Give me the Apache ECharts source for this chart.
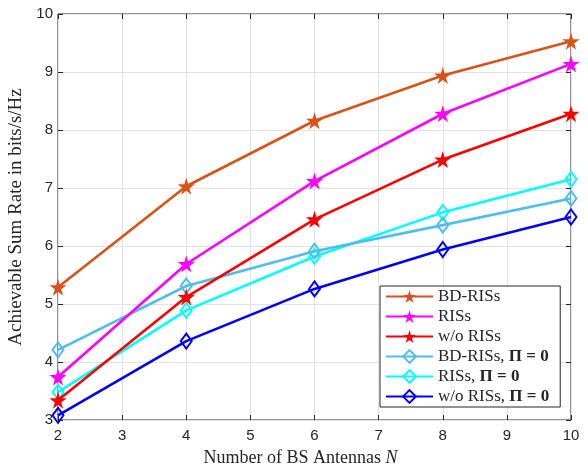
<!DOCTYPE html>
<html><head><meta charset="utf-8">
<script src="https://cdn.jsdelivr.net/npm/echarts@6/dist/echarts.min.js"></script>
<style>html,body{margin:0;padding:0;background:#fff}#c{width:588px;height:466px}</style>
</head><body><div id="c"></div>
<script>
const antennas = [2, 4, 6, 8, 10];
const bdRIS = [5.29, 7.03, 8.16, 8.94, 9.53];
const ris = [3.74, 5.69, 7.12, 8.28, 9.14];
const woRIS = [3.34, 5.12, 6.46, 7.49, 8.28];
const bdRIS0 = [4.21, 5.31, 5.91, 6.36, 6.82];
const ris0 = [3.48, 4.89, 5.82, 6.58, 7.15];
const woRIS0 = [3.08, 4.36, 5.26, 5.94, 6.50];
const names = ['BD-RISs', 'RISs', 'w/o RISs', 'BD-RISs, Π = 0', 'RISs, Π = 0', 'w/o RISs, Π = 0'];
const colors = ['#D95319', '#FF00FF', '#FF0000', '#4DBEEE', '#00FFFF', '#0000FF'];
const values = [bdRIS, ris, woRIS, bdRIS0, ris0, woRIS0];
const star = 'path://M50,0 L61,35 L98,35 L68,57 L79,91 L50,70 L21,91 L32,57 L2,35 L39,35 Z';

const series = values.map((v, i) => {
  const isStar = i < 3;
  return {
    name: names[i], type: 'line',
    data: antennas.map((x, j) => [x, v[j]]),
    symbol: isStar ? star : 'diamond',
    symbolSize: isStar ? 17 : [11, 15],
    lineStyle: { color: colors[i], width: 2.6 },
    itemStyle: isStar ? { color: colors[i], borderColor: colors[i], borderWidth: 0 }
                      : { color: '#ffffff00', borderColor: colors[i], borderWidth: 2 },
    emphasis: { disabled: true },
    z: 10 - i
  };
});
const chart = echarts.init(document.getElementById('c'));
const tl = { color: '#262626', fontSize: 15, fontFamily: 'Liberation Sans' };
chart.setOption({
  animation: false,
  grid: { left: 58, right: 17, top: 14, bottom: 46, show: true, borderColor: '#262626', borderWidth: 1, containLabel: false, outerBoundsMode: 'none' },
  xAxis: [{
    type: 'value', min: 2, max: 10, interval: 1,
    axisLine: { show: false }, axisTick: { inside: true, length: 5, lineStyle: { color: '#262626' } },
    axisLabel: Object.assign({ margin: 8 }, tl),
    splitLine: { lineStyle: { color: '#e3e3e3' } },
    name: '{a|Number of BS Antennas }{i|N}', nameLocation: 'middle', nameGap: 29,
    nameTextStyle: { padding: [0, 28, 0, 0], rich: { a: { fontFamily: 'Liberation Serif', fontSize: 18, color: '#262626' }, i: { fontFamily: 'Liberation Serif', fontStyle: 'italic', fontSize: 18, color: '#262626' } } }
  }, {
    type: 'value', position: 'top', min: 2, max: 10, interval: 1,
    axisLine: { show: false }, axisTick: { inside: true, length: 5, lineStyle: { color: '#262626' } },
    axisLabel: { show: false }, splitLine: { show: false }
  }],
  yAxis: [{
    type: 'value', min: 3, max: 10, interval: 1,
    axisLine: { show: false }, axisTick: { inside: true, length: 5, lineStyle: { color: '#262626' } },
    axisLabel: Object.assign({ margin: 5 }, tl),
    splitLine: { lineStyle: { color: '#e3e3e3' } },
    name: 'Achievable Sum Rate in bits/s/Hz', nameLocation: 'middle', nameGap: 26,
    nameTextStyle: { fontFamily: 'Liberation Serif', fontSize: 19, color: '#262626' }
  }, {
    type: 'value', position: 'right', min: 3, max: 10, interval: 1,
    axisLine: { show: false }, axisTick: { inside: true, length: 5, lineStyle: { color: '#262626' } },
    axisLabel: { show: false }, splitLine: { show: false }
  }],
  legend: {
    orient: 'vertical', left: 380, top: 286,
    backgroundColor: '#fff', borderColor: '#262626', borderWidth: 1,
    padding: [2, 11, 2, 5], itemGap: 3, itemWidth: 47, itemHeight: 16,
    data: names,
    formatter: n => {
      const k = n.indexOf(', Π');
      if (k < 0) return '{a|' + n + '}';
      return '{a|' + n.slice(0, k) + ', }{b|Π = 0}';
    },
    textStyle: { rich: {
      a: { fontFamily: 'Liberation Serif', fontSize: 17, lineHeight: 16, color: '#262626' },
      b: { fontFamily: 'Liberation Serif', fontWeight: 'bold', fontSize: 17, lineHeight: 16, color: '#262626' }
    } }
  },
  series: series
});
</script></body></html>
